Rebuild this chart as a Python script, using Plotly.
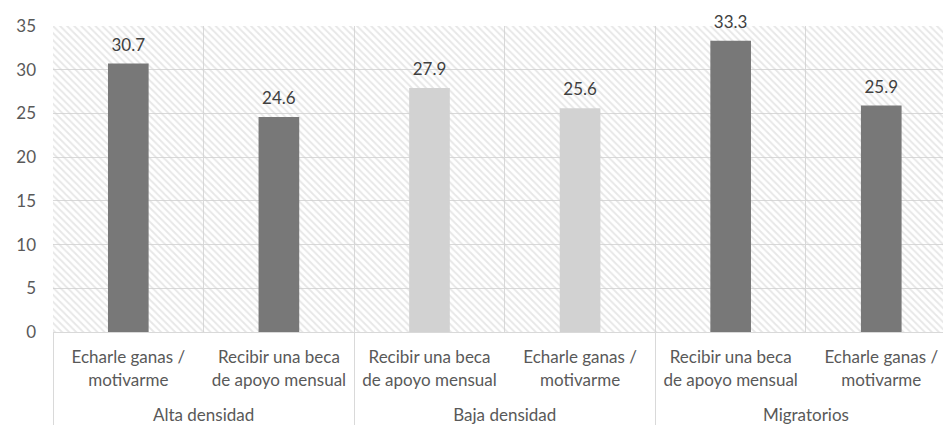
import plotly.graph_objects as go

# Data
groups = ["Alta densidad", "Alta densidad", "Baja densidad", "Baja densidad",
          "Migratorios", "Migratorios"]
reasons = ["Echarle ganas /<br>motivarme", "Recibir una beca<br>de apoyo mensual",
           "Recibir una beca<br>de apoyo mensual", "Echarle ganas /<br>motivarme",
           "Recibir una beca<br>de apoyo mensual", "Echarle ganas /<br>motivarme"]
values = [30.7, 24.6, 27.9, 25.6, 33.3, 25.9]
bar_colors = ["#787878", "#787878", "#d2d2d2", "#d2d2d2", "#787878", "#787878"]
y_max = 35
y_ticks = [0, 5, 10, 15, 20, 25, 30, 35]

# Each inner label gets a distinct invisible suffix so plotly keeps the
# within-group order as listed, plus a trailing blank line for spacing.
inner = [r + "\u200b" * i + "<br> " for i, r in enumerate(reasons)]
x = [groups, inner]
font_family = "Lato, 'Open Sans', sans-serif"

fig = go.Figure()

# Hatched plot-area background, one full-width block per category
fig.add_trace(go.Bar(
    x=x, y=[y_max] * len(values), width=1,
    marker=dict(color="rgba(0,0,0,0)", line=dict(width=0),
                pattern=dict(shape="\\", fgcolor="#d0d0d0", size=5, solidity=0.38)),
    hoverinfo="skip", showlegend=False,
))

# Data bars
fig.add_trace(go.Bar(
    x=x, y=values, width=0.27,
    marker=dict(color=bar_colors, line=dict(width=0)),
    showlegend=False,
))

# Value labels above bars
fig.add_trace(go.Scatter(
    x=x, y=values, mode="markers+text",
    text=[f"{v:.1f}" for v in values], textposition="top center",
    textfont=dict(family=font_family, size=17, color="#404040"),
    marker=dict(size=12, opacity=0),
    cliponaxis=False,
    hoverinfo="skip", showlegend=False,
))

fig.update_layout(
    width=943, height=426,
    margin=dict(l=53, r=0, t=26, b=94),
    barmode="overlay",
    paper_bgcolor="white", plot_bgcolor="white",
    font=dict(family=font_family, size=17, color="#595959"),
)

fig.update_xaxes(
    type="multicategory",
    range=[-0.5, 5.41],
    tickson="boundaries",
    showgrid=True, gridcolor="#d9d9d9", gridwidth=1,
    showline=True, linecolor="#d9d9d9", linewidth=1,
    ticks="", showdividers=True, dividercolor="#d9d9d9", dividerwidth=1,
    tickfont=dict(family=font_family, size=17, color="#595959"),
    ticklabelstandoff=10,
)

fig.update_yaxes(
    range=[0, y_max], tickvals=y_ticks,
    showgrid=True, gridcolor="#d9d9d9", gridwidth=1,
    zeroline=False, showline=False, ticks="",
    tickfont=dict(family=font_family, size=17, color="#595959"),
    ticklabelstandoff=16,
)

fig.write_html("out.html")
